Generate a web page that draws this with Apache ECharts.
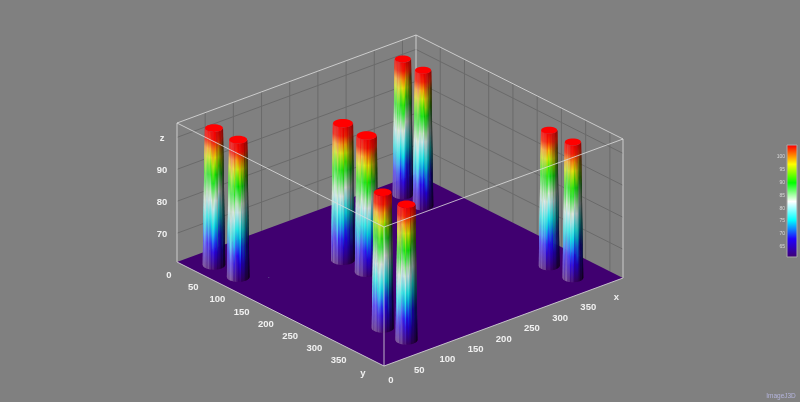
<!DOCTYPE html>
<html>
<head>
<meta charset="utf-8">
<style>html,body{margin:0;padding:0;background:#808080}#c{width:800px;height:402px;filter:blur(0.4px)}</style>
<script src="https://cdn.jsdelivr.net/npm/echarts@6/dist/echarts.min.js"></script>
</head>
<body>
<div id="c"></div>
<script>
// ---- values ----
const xTicks = [0, 50, 100, 150, 200, 250, 300, 350];
const yTicks = [0, 50, 100, 150, 200, 250, 300, 350];
const zTicks = [70, 80, 90];
const wallXY = [50, 100, 150, 200, 250, 300, 350, 400];
const wallZ = [70, 80, 90, 100];
const colorTicks = [65, 70, 75, 80, 85, 90, 95, 100];
const pillarX = [32, 32, 174, 174, 368, 366, 76, 76, 373, 373];
const pillarY = [39, 89, 140, 189, 38, 82, 336, 385, 334, 383];
const pillarTop = [103.8, 104, 103.8, 103.7, 103.5, 103.5, 103.5, 103.5, 103.5, 103.5];
const pillarRadiusTop = [12, 12, 13.4, 13.4, 10.8, 10.8, 11.8, 11.8, 10.8, 10.8];
const pillarRadiusBase = [15, 15, 15.8, 15.8, 13.6, 13.6, 14.6, 14.6, 13.8, 13.8];
const floorSpecks = [[63, 115]];
const X_MAX = 424, Y_MAX = 427, Z_MIN = 61, Z_MAX = 104.5;
const lutZ = [61, 68.2, 75.4, 82.6, 89.8, 97, 104.2];
const lutColor = [[64,0,112],[32,0,255],[0,255,255],[255,255,255],[0,255,0],[255,255,0],[255,0,0]];
// hand-set surface streaks (z shift of a facet, brightness shift of a facet)
const streakZ = [1,-1,0.5,1.5,1,-1.5,-1,0,-1.5,0.5,2,1,0,1.5,-1.5,-1,-0.5,1.5,-1,0.5,-0.5,1,-2,-1,0,-1,1.5,0.5];
const streakB = [.05,-.06,.02,.08,.04,.01,-.09,.06,0,-.05,.09,.03,.04,-.08,.06,0,-.04,.08,-.06,.02,.05,-.09,.01,.06,-.02,.04,-.06,.08];

const FACETS = 22;
const LINE_LIGHT = 'rgba(222,222,222,0.8)';
const LINE_GRID = '#6a6a6a';
const FLOOR = '#400070';

function project(x, y, z) {
  return [
    177 + 239 * x / X_MAX + 207 * y / Y_MAX,
    262 - 88 * x / X_MAX + 104 * y / Y_MAX - (z - Z_MIN) * 139 / (Z_MAX - Z_MIN)
  ];
}
function lut(z) {
  if (z <= lutZ[0]) return lutColor[0].slice();
  for (let i = 1; i < lutZ.length; i++) {
    if (z <= lutZ[i]) {
      const t = (z - lutZ[i-1]) / (lutZ[i] - lutZ[i-1]);
      return lutColor[i-1].map((c, k) => c + (lutColor[i][k] - c) * t);
    }
  }
  return lutColor[lutColor.length-1].slice();
}
function shadeColor(c, s, dim) {
  const target = s > 0 ? 255 : 0, a = Math.min(Math.abs(s), 0.85);
  return 'rgb(' + c.map(v => Math.round((v + (target - v) * a) * dim)).join(',') + ')';
}

// --- segments of the box ---
const backSegments = [], boxBackSegments = [], boxFrontSegments = [];
wallXY.forEach(v => {
  backSegments.push([v, 0, Z_MIN, v, 0, Z_MAX]);
  backSegments.push([X_MAX, v, Z_MIN, X_MAX, v, Z_MAX]);
});
wallZ.forEach(z => {
  backSegments.push([0, 0, z, X_MAX, 0, z]);
  backSegments.push([X_MAX, 0, z, X_MAX, Y_MAX, z]);
});
[
  [0,0,Z_MIN,0,0,Z_MAX],[X_MAX,0,Z_MIN,X_MAX,0,Z_MAX],[X_MAX,Y_MAX,Z_MIN,X_MAX,Y_MAX,Z_MAX],
  [0,0,Z_MAX,X_MAX,0,Z_MAX],[X_MAX,0,Z_MAX,X_MAX,Y_MAX,Z_MAX]
].forEach(s => boxBackSegments.push(s));
[
  [0,0,Z_MAX,0,Y_MAX,Z_MAX],[0,Y_MAX,Z_MAX,X_MAX,Y_MAX,Z_MAX],[0,Y_MAX,Z_MIN,0,Y_MAX,Z_MAX],
  [0,0,Z_MIN,0,Y_MAX,Z_MIN],[0,Y_MAX,Z_MIN,X_MAX,Y_MAX,Z_MIN]
].forEach(s => boxFrontSegments.push(s));

function segmentSeries(name, data, color, z) {
  return {
    type: 'custom', name, data, z, xAxisIndex: 0, yAxisIndex: 0, silent: true, clip: false,
    renderItem(p, api) {
      const a = api.coord(project(api.value(0), api.value(1), api.value(2)));
      const b = api.coord(project(api.value(3), api.value(4), api.value(5)));
      return { type: 'line', shape: { x1: a[0], y1: a[1], x2: b[0], y2: b[1] },
        style: { stroke: color, lineWidth: 1, fill: null } };
    }
  };
}

// --- pillars back to front ---
const pillarData = pillarX.map((x, i) => [x, pillarY[i], pillarTop[i], pillarRadiusTop[i], pillarRadiusBase[i], i])
  .sort((a, b) => project(a[0], a[1], Z_MIN)[1] - project(b[0], b[1], Z_MIN)[1]);

function renderPillar(p, api) {
  const x = api.value(0), y = api.value(1), top = api.value(2);
  const rt = api.value(3), rb = api.value(4), id = api.value(5);
  const ct = api.coord(project(x, y, top)), cb = api.coord(project(x, y, Z_MIN));
  const rxT = rt * 0.7435, ryT = rt * 0.32, rxB = rb * 0.7435, ryB = rb * 0.32;
  const children = [];
  for (let i = 0; i < FACETS; i++) {
    const t0 = Math.PI - Math.PI * i / FACETS, t1 = Math.PI - Math.PI * (i + 1) / FACETS;
    const tm = (t0 + t1) / 2, u = Math.cos(tm);
    const k = (i + id * 5) % streakZ.length;
    // left part lit, right part darkened
    const light = u < 0 ? 0.34 * Math.min(1, -u * 1.6) : -0.75 * Math.pow(u, 1.5);
    const shade = light + streakB[k];
    const yT = ct[1] + ryT * Math.sin(tm), yB = cb[1] + ryB * Math.sin(tm);
    const stops = [];
    const N = 16;
    for (let j = 0; j <= N; j++) {
      const f = j / N;
      const z = Z_MIN + (top - Z_MIN) * (1 - f);
      // streaks fade out towards the floor and the cap
      const amp = Math.min(1, Math.min(f, 1 - f) * 5);
      const lift = z > 92 ? (z - 92) * 0.28 : 0;
      const rightShift = (z > 70 && z < 92) ? -3 * Math.max(0, u) : 0;
      const c = lut(z + lift + rightShift + streakZ[k] * amp);
      const midDim = (z > 72 && z < 96) ? 0.9 : 0.95;
      const dim = midDim - 0.08 * Math.max(0, u);
      stops.push({ offset: f, color: shadeColor(c, z > 99 ? shade * 0.5 : shade, dim) });
    }
    children.push({
      type: 'polygon',
      shape: { points: [
        [ct[0] + rxT * Math.cos(t0) - 0.2, ct[1] + ryT * Math.sin(t0)],
        [ct[0] + rxT * Math.cos(t1) + 0.2, ct[1] + ryT * Math.sin(t1)],
        [cb[0] + rxB * Math.cos(t1) + 0.2, cb[1] + ryB * Math.sin(t1)],
        [cb[0] + rxB * Math.cos(t0) - 0.2, cb[1] + ryB * Math.sin(t0)]
      ] },
      style: { fill: { type: 'linear', x: 0, y: yT, x2: 0, y2: yB, global: true, colorStops: stops } }
    });
  }
  children.push({
    type: 'ellipse', shape: { cx: ct[0], cy: ct[1], rx: rxT, ry: ryT },
    style: { fill: '#ff0000' }
  });
  return { type: 'group', children };
}

// --- labels ---
function labelSeries(name, texts, positions, dx, dy) {
  return {
    type: 'custom', name, z: 8, xAxisIndex: 0, yAxisIndex: 0, silent: true, clip: false,
    data: positions.map((q, i) => [q[0], q[1], q[2], i]),
    renderItem(p, api) {
      const c = api.coord(project(api.value(0), api.value(1), api.value(2)));
      return { type: 'text', x: c[0] + dx, y: c[1] + dy,
        style: { text: texts[api.value(3)], fill: '#f0f0f0', font: 'bold 9.5px "Liberation Sans"',
          align: 'center', verticalAlign: 'middle' } };
    }
  };
}

const option = {
  backgroundColor: '#808080',
  animation: false,
  grid: [
    { left: 0, top: 0, width: 800, height: 402, show: false },
    { left: 787, top: 145, width: 10, height: 112, show: false }
  ],
  xAxis: [
    { type: 'value', gridIndex: 0, min: 0, max: 800, show: false },
    { type: 'value', gridIndex: 1, min: 0, max: 1, show: false }
  ],
  yAxis: [
    { type: 'value', gridIndex: 0, min: 0, max: 402, inverse: true, show: false },
    { type: 'value', gridIndex: 1, min: 61, max: 104.6, position: 'left',
      axisLine: { show: false }, axisTick: { show: false }, splitLine: { show: false },
      axisLabel: { customValues: colorTicks, fontSize: 5, color: '#d8d8d8', margin: 2,
        fontFamily: 'Liberation Sans', hideOverlap: false } }
  ],
  series: [
    segmentSeries('grid', backSegments, LINE_GRID, 1),
    segmentSeries('boxBack', boxBackSegments, LINE_LIGHT, 2),
    {
      type: 'custom', name: 'floor', z: 3, xAxisIndex: 0, yAxisIndex: 0, silent: true, clip: false,
      data: [[0, 0, Z_MIN]],
      renderItem(p, api) {
        const z = api.value(2);
        const pts = [[0,0],[X_MAX,0],[X_MAX,Y_MAX],[0,Y_MAX]].map(q => api.coord(project(q[0], q[1], z)));
        return { type: 'polygon', shape: { points: pts }, style: { fill: FLOOR } };
      }
    },
    {
      type: 'custom', name: 'specks', z: 4, xAxisIndex: 0, yAxisIndex: 0, silent: true, clip: false,
      data: floorSpecks,
      renderItem(p, api) {
        const c = api.coord(project(api.value(0), api.value(1), Z_MIN));
        return { type: 'rect', shape: { x: c[0], y: c[1], width: 1, height: 1 }, style: { fill: '#5f4a8a' } };
      }
    },
    {
      type: 'custom', name: 'pillars', z: 5, xAxisIndex: 0, yAxisIndex: 0, silent: true, clip: false,
      data: pillarData, renderItem: renderPillar
    },
    segmentSeries('boxFront', boxFrontSegments, LINE_LIGHT, 6),
    labelSeries('xLabels', xTicks.map(String).concat(['x']), xTicks.concat([400]).map(v => [v, Y_MAX, Z_MIN]), 7, 14.5),
    labelSeries('yLabels', yTicks.map(String).concat(['y']), yTicks.concat([400]).map(v => [0, v, Z_MIN]), -8, 13.5),
    labelSeries('zLabels', zTicks.map(String).concat(['z']), zTicks.concat([100]).map(v => [0, 0, v]), -15, 1),
    {
      type: 'custom', name: 'colorbar', z: 5, xAxisIndex: 1, yAxisIndex: 1, silent: true, clip: false,
      data: [[0, 61, 1, 104.6]],
      renderItem(p, api) {
        const a = api.coord([api.value(0), api.value(3)]), b = api.coord([api.value(2), api.value(1)]);
        const lo = api.value(1), hi = api.value(3);
        const stops = lutZ.map((z, i) => ({ offset: Math.min(1, (hi - z) / (hi - lo)),
          color: 'rgb(' + lutColor[i].join(',') + ')' })).reverse();
        return { type: 'rect', shape: { x: a[0], y: a[1], width: b[0] - a[0], height: b[1] - a[1] },
          style: { fill: { type: 'linear', x: 0, y: 0, x2: 0, y2: 1, colorStops: stops },
            stroke: '#a8a8a8', lineWidth: 1 } };
      }
    },
    {
      type: 'custom', name: 'credit', z: 8, xAxisIndex: 0, yAxisIndex: 0, silent: true, clip: false,
      data: [[781, 396]],
      renderItem(p, api) {
        const c = api.coord([api.value(0), api.value(1)]);
        return { type: 'text', x: c[0], y: c[1],
          style: { text: 'ImageJ3D', fill: '#b4b4dc', font: '6.5px "Liberation Sans"',
            align: 'center', verticalAlign: 'middle' } };
      }
    }
  ]
};
const chart = echarts.init(document.getElementById('c'), null, { renderer: 'canvas', width: 800, height: 402 });
chart.setOption(option);
</script>
</body>
</html>
